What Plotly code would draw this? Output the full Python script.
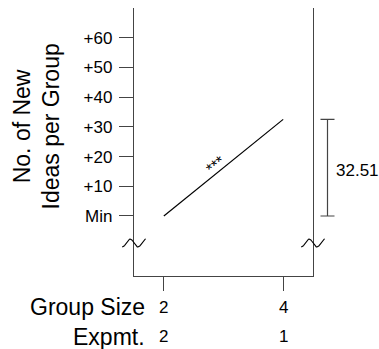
import numpy as np
import plotly.graph_objects as go

# ---- data ----
group_size = [2, 4]
expmt = [2, 1]
new_ideas = [0, 32.51]          # relative to Min
difference = 32.51
y_tick_vals = [0, 10, 20, 30, 40, 50, 60]
y_tick_text = ["Min", "+10", "+20", "+30", "+40", "+50", "+60"]
row_labels = ["Group Size", "Expmt."]
y_title = "No. of New<br>Ideas per Group"
signif = "***"

# ---- layout geometry ----
W, H = 379, 349
L, R, T, B = 134, 313, 8, 276           # plot area in pixels
x_range = [1.5, 4.5]
y_range = [-20.2, 70]
sx = (R - L) / (x_range[1] - x_range[0])  # px per x unit
sy = (B - T) / (y_range[1] - y_range[0])  # px per y unit
x2_range = [x_range[0] - L / sx, x_range[1] + (W - R) / sx]

FONT = "Liberation Sans, Arial, Helvetica, sans-serif"
AX = "#444"
TF = 17
LF = 23

fig = go.Figure()

# main line
fig.add_trace(go.Scatter(x=group_size, y=new_ideas, mode="lines",
                         line=dict(color="black", width=1.2),
                         xaxis="x", yaxis="y", hoverinfo="skip"))

# bracket showing difference
bx = x_range[1] + 14.5 / sx
fig.add_trace(go.Scatter(x=[bx], y=[difference / 2], mode="markers",
                         marker=dict(size=1, opacity=0),
                         error_y=dict(type="data", array=[difference / 2], symmetric=True,
                                      width=7, thickness=1.2, color=AX),
                         xaxis="x2", yaxis="y2", hoverinfo="skip"))

# axis break squiggles
yc = -9.1
w = 23.5 / sx
A = 4.0 / sy
t = np.linspace(0, 1, 40)
for xc in x_range:
    fig.add_trace(go.Scatter(x=xc + (t - 0.5) * w, y=yc - A * np.cos(3 * np.pi * t),
                             mode="lines", line=dict(color="black", width=1.1),
                             xaxis="x2", yaxis="y2", hoverinfo="skip"))

annotations = []
# difference label
annotations.append(dict(x=bx, y=difference / 2, xref="x2", yref="y2", text=f"{difference:.2f}",
                        showarrow=False, xanchor="left", yanchor="middle", xshift=6, yshift=-3,
                        font=dict(size=TF, color="black", family=FONT)))
# significance stars
annotations.append(dict(x=2.874, y=17.3, xref="x", yref="y", text=signif, showarrow=False,
                        textangle=-38.7, font=dict(size=16, color="black", family=FONT)))
# y title (paper x spans the full width since l=r=0)
annotations.append(dict(x=36.5 / W, y=(B - 127) / (B - T), xref="paper", yref="paper",
                        text=y_title, showarrow=False, textangle=-90,
                        xanchor="center", yanchor="middle",
                        font=dict(size=LF, color="black", family=FONT)))
# bottom rows
row_y = [307, 336.5]
for ry, lab, vals in zip(row_y, row_labels, [group_size, expmt]):
    yp = (B - ry) / (B - T)
    annotations.append(dict(x=147 / W, y=yp, xref="paper", yref="paper", text=lab,
                            showarrow=False, xanchor="right", yanchor="middle",
                            font=dict(size=LF, color="black", family=FONT)))
    for gx, v in zip(group_size, vals):
        annotations.append(dict(x=gx, y=yp, xref="x", yref="paper", text=str(v),
                                showarrow=False, xanchor="center", yanchor="middle",
                                font=dict(size=TF, color="black", family=FONT)))

fig.update_layout(
    width=W, height=H,
    margin=dict(l=0, r=0, t=T, b=H - B, pad=0),
    paper_bgcolor="white", plot_bgcolor="rgba(0,0,0,0)",
    showlegend=False,
    font=dict(family=FONT, color="black"),
    xaxis=dict(domain=[L / W, R / W], range=x_range, showline=True, linecolor=AX, linewidth=1.3,
               ticks="outside", ticklen=14, tickwidth=1.3, tickcolor=AX,
               tickvals=group_size, showticklabels=False,
               showgrid=False, zeroline=False, mirror=False, fixedrange=True),
    yaxis=dict(domain=[0, 1], range=y_range, showline=True, linecolor=AX, linewidth=1.3,
               mirror=True, ticks="outside", ticklen=14, tickwidth=1.3, tickcolor=AX,
               tickvals=y_tick_vals, ticktext=y_tick_text, ticklabelstandoff=3,
               tickfont=dict(size=TF, color="black", family=FONT),
               showgrid=False, zeroline=False, fixedrange=True),
    xaxis2=dict(domain=[0, 1], range=x2_range, anchor="y2", visible=False, fixedrange=True),
    yaxis2=dict(domain=[0, 1], range=y_range, anchor="x2", visible=False, fixedrange=True),
    annotations=annotations,
)

fig.write_html("out.html")
